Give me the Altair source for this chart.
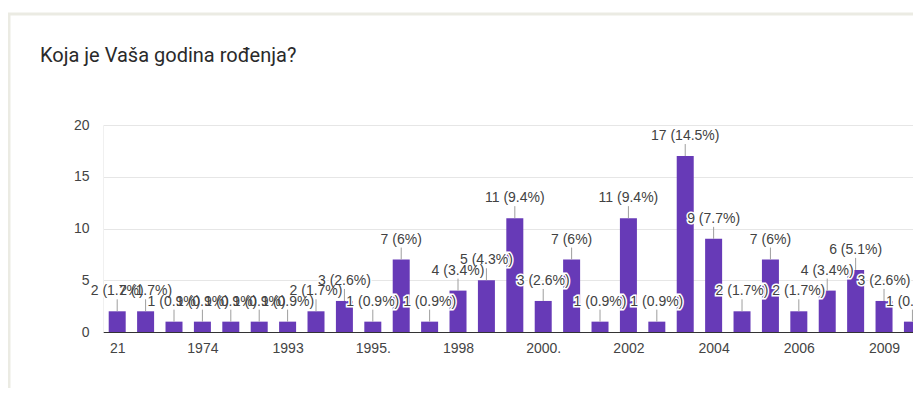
import json
import altair as alt
import pandas as pd

# ---- data ----
categories = ["21", "1965", "1970", "1974", "1980", "1988", "1993", "1994", "1995", "1995.",
              "1996", "1997", "1998", "1999", "2000", "2000.", "2001", "2001.", "2002", "2002.",
              "2003", "2004", "2004.", "2005", "2006", "2007", "2008", "2009", "2010"]
counts = [2, 2, 1, 1, 1, 1, 1, 2, 3, 1,
          7, 1, 4, 5, 11, 3, 7, 1, 11, 1,
          17, 9, 2, 7, 2, 4, 6, 3, 1]
percents = ["1.7", "1.7", "0.9", "0.9", "0.9", "0.9", "0.9", "1.7", "2.6", "0.9",
            "6", "0.9", "3.4", "4.3", "9.4", "2.6", "6", "0.9", "9.4", "0.9",
            "14.5", "7.7", "1.7", "6", "1.7", "3.4", "5.1", "2.6", "0.9"]
shown_ticks = [1, 4, 7, 10, 13, 16, 19, 22, 25, 28]
y_ticks = [0, 2.5, 5, 7.5, 10, 12.5, 15, 17.5, 20]

df = pd.DataFrame({
    "idx": list(range(1, len(categories) + 1)),
    "kategorija": categories,
    "broj": counts,
    "oznaka": [f"{c} ({p}%)" for c, p in zip(counts, percents)],
})

purple = "#673ab7"
label_font = "Liberation Sans"
label_expr = json.dumps(categories) + "[datum.value - 1]"

x_enc = alt.X("idx:Q",
              scale=alt.Scale(domain=[0.5, 29.02], nice=False, zero=False, padding=0),
              axis=alt.Axis(values=shown_ticks, labelExpr=label_expr, title=None,
                            grid=False, ticks=False, domain=True, domainColor="#333333",
                            labelColor="#444444", labelFontSize=14, labelFont=label_font,
                            labelPadding=9, labelFlush=False, labelOverlap=False))
y_enc = alt.Y("broj:Q",
              scale=alt.Scale(domain=[0, 20], nice=False),
              axis=alt.Axis(values=y_ticks, title=None, ticks=False,
                            labelExpr="datum.value % 5 === 0 ? datum.label : ''",
                            gridColor=alt.condition("datum.value % 5 === 0",
                                                    alt.value("#e6e6e6"), alt.value("#f3f3f3")),
                            domain=True, domainColor="#f0f0f0",
                            labelColor="#444444", labelFontSize=14, labelFont=label_font,
                            labelPadding=14))

base = alt.Chart(df)

frame = alt.Chart(alt.Data(values=[{"a": 1}])).mark_rect(
    fill=None, stroke="#ebebe3", strokeWidth=3, clip=False
).encode(x=alt.value(-94), x2=alt.value(900), y=alt.value(-111), y2=alt.value(400))

bars = base.mark_bar(color=purple, size=17, clip=True).encode(x=x_enc, y=y_enc)

stems = base.mark_rule(color="#9e9e9e", strokeWidth=1, y2Offset=-12).encode(
    x="idx:Q", y="broj:Q", y2="broj:Q")

halo = base.mark_text(font=label_font, fontSize=14, baseline="alphabetic", dy=-16,
                      color="white", stroke="white", strokeWidth=3).encode(
    x="idx:Q", y="broj:Q", text="oznaka:N")

labels = base.mark_text(font=label_font, fontSize=14, baseline="alphabetic", dy=-16,
                        color="#424242").encode(
    x="idx:Q", y="broj:Q", text="oznaka:N")

chart = alt.layer(frame, bars, stems, halo, labels).properties(
    width=810,
    height=207,
    padding={"left": 95, "top": 117, "right": 0, "bottom": 56},
    autosize=alt.AutoSizeParams(type="none"),
    title=alt.TitleParams("Koja je Vaša godina rođenja?", anchor="start", frame="group",
                          dx=-63, dy=57, fontSize=20, fontWeight="normal", color="#2a2a2a",
                          font="Roboto"),
).configure(font="Roboto", background="white").configure_view(stroke=None)

chart.save("out.html", embed_options={"renderer": "svg", "actions": False})
